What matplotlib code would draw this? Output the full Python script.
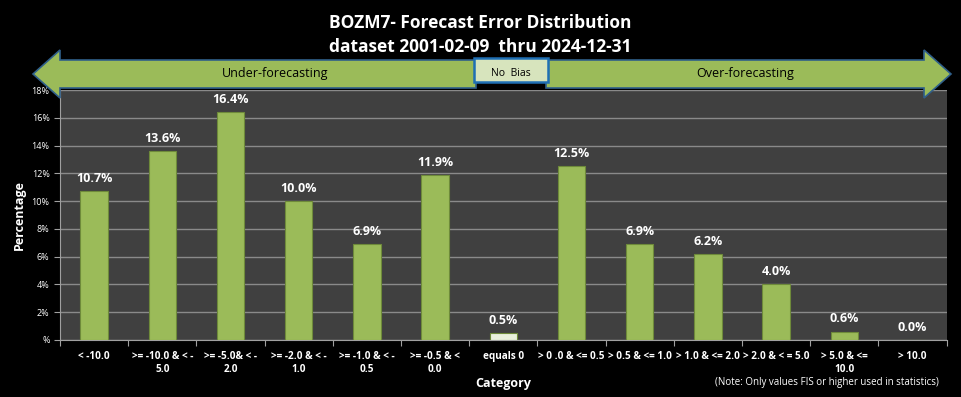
import matplotlib.pyplot as plt
from matplotlib.patches import FancyArrow, Rectangle
from matplotlib.ticker import FuncFormatter

# === Data ===
categories = ['< -10.0', '>= -10.0 & < -\n5.0', '>= -5.0& < -\n2.0', '>= -2.0 & < -\n1.0',
              '>= -1.0 & < -\n0.5', '>= -0.5 & <\n0.0', 'equals 0', '> 0 .0 & <= 0.5',
              '> 0.5 & <= 1.0', '> 1.0 & <= 2.0', '> 2.0 & < = 5.0', '> 5.0 & <=\n10.0', '> 10.0']
percent = [10.7, 13.6, 16.4, 10.0, 6.9, 11.9, 0.5, 12.5, 6.9, 6.2, 4.0, 0.6, 0.0]
highlight = 'equals 0'

green = '#9bbb59'
pale = '#e9f0dc'

plt.rcParams['font.family'] = ['Open Sans', 'DejaVu Sans']

fig = plt.figure(figsize=(9.61, 3.97), dpi=100, facecolor='black')
ax = fig.add_axes([0.0624, 0.1436, 0.9226, 0.6294])
ax.set_facecolor('#404040')

x = list(range(len(categories)))
colors = [pale if c == highlight else green for c in categories]
ax.bar(x, percent, width=0.4, color=colors, edgecolor='#6e8a3a', linewidth=0.8, zorder=3)

for xi, v in zip(x, percent):
    ax.text(xi, v + 0.45, f'{v:.1f}%', ha='center', va='bottom', color='white',
            fontsize=9, fontweight='bold', zorder=4)

ax.set_ylim(0, 18)
ax.set_yticks(range(0, 19, 2))
ax.yaxis.set_major_formatter(FuncFormatter(lambda v, p: '%' if v == 0 else f'{int(v)}%'))
ax.set_xlim(-0.5, len(categories) - 0.5)
ax.set_xticks([i - 0.5 for i in range(len(categories) + 1)], minor=False)
ax.set_xticklabels([])
ax.set_xticks(x, minor=True)
ax.set_xticklabels(categories, minor=True, fontsize=7.2, fontweight='bold', color='white')
ax.tick_params(axis='x', which='minor', length=0, pad=8)
ax.tick_params(axis='x', which='major', length=4, color='#a0a0a0')
ax.tick_params(axis='y', colors='white', labelsize=6.5, length=4)
ax.tick_params(axis='y', color='#a0a0a0')
ax.grid(axis='y', color='#8a8a8a', linewidth=1, zorder=0)
for s in ['top', 'right']:
    ax.spines[s].set_visible(False)
ax.spines['left'].set_color('#a0a0a0')
ax.spines['bottom'].set_color('#a0a0a0')

ax.set_ylabel('Percentage', color='white', fontsize=9, fontweight='bold')
ax.set_xlabel('Category', color='white', fontsize=9, fontweight='bold', labelpad=2)

fig.text(0.5, 0.942, 'BOZM7- Forecast Error Distribution', ha='center', va='center',
         color='white', fontsize=12.5, fontweight='bold')
fig.text(0.5, 0.882, 'dataset 2001-02-09  thru 2024-12-31', ha='center', va='center',
         color='white', fontsize=12.5, fontweight='bold')

# === Double arrow band above the plot ===
W, H = 961, 397
def fx(px):
    return px / W
def fy(py):
    return 1 - py / H
body_h = fy(60) - fy(88)
head_w = fy(50) - fy(98)
ymid = fy(74)
for start, end in [(fx(476), fx(33)), (fx(546), fx(951))]:
    fig.patches.append(FancyArrow(start, ymid, end - start, 0, width=body_h, head_width=head_w,
                                  head_length=fx(27), length_includes_head=True,
                                  transform=fig.transFigure, facecolor=green,
                                  edgecolor='#2f5f8a', linewidth=1.2, zorder=1))
fig.patches.append(Rectangle((fx(474), fy(82)), fx(74), fy(58) - fy(82), transform=fig.transFigure,
                             facecolor='#d7e4bd', edgecolor='#1f6fb4', linewidth=1.8, zorder=5))
fig.text(fx(511), ymid, 'No  Bias', ha='center', va='center', fontsize=7.5, color='black', zorder=6)
fig.text(fx(275), ymid, 'Under-forecasting', ha='center', va='center', fontsize=9, color='black')
fig.text(fx(745), ymid, 'Over-forecasting', ha='center', va='center', fontsize=9, color='black')

fig.text(fx(939), fy(383), '(Note: Only values FIS or higher used in statistics)', ha='right',
         va='center', fontsize=7, color='white')

plt.savefig('out.png', dpi=100, facecolor='black')
